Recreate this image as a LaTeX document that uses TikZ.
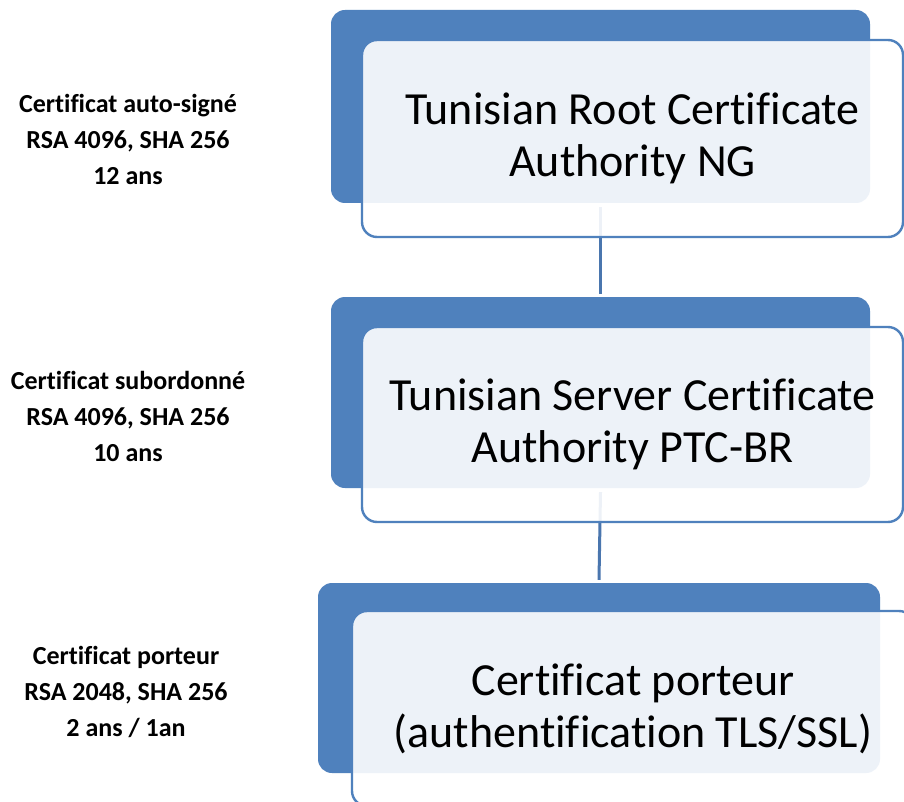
\documentclass[tikz,border=0pt]{standalone}
\usepackage{fontspec}
\setmainfont{Carlito}[Ligatures=NoCommon]
\definecolor{accent}{HTML}{4F81BD}
\definecolor{connc}{HTML}{4A76AE}
\begin{document}
\begin{tikzpicture}[x=1pt,y=-1pt,
  backbox/.style={fill=accent, draw=none, rounded corners=14pt, inner sep=0pt},
  frontbox/.style={fill=white, fill opacity=0.9, text opacity=1, draw=accent, draw opacity=1,
    line width=2.4pt, rounded corners=15pt, inner sep=0pt, align=center,
    font=\fontsize{46}{52}\selectfont},
  conn/.style={draw=connc, line width=3pt},
  sidelabel/.style={align=center, font=\bfseries\fontsize{26}{36}\selectfont, inner sep=0pt}]
\useasboundingbox (0,0) rectangle (904,802);
\clip (0,0) rectangle (904,802);
\fill[white] (0,0) rectangle (904,802);
% back boxes
\node[backbox, minimum width=539pt, minimum height=193pt] (b1) at (600.5,106.5) {};
\node[backbox, minimum width=539pt, minimum height=191pt] (b2) at (600.5,392.5) {};
\node[backbox, minimum width=562pt, minimum height=190pt] (b3) at (599,678) {};
% connectors
\draw[conn] ([yshift=-4pt]b1.south) -- ([yshift=3pt]b2.north);
\draw[conn] ([yshift=-4pt]b2.south) -- ([yshift=3pt]b3.north);
% front boxes
\node[frontbox, minimum width=541pt, minimum height=197pt] (f1) at (632.5,138.5)
  {Tunisian Root Certificate\\Authority NG};
\node[frontbox, minimum width=541pt, minimum height=195pt] (f2) at (632.5,424.5)
  {Tunisian Server Certificate\\Authority PTC-BR};
\node[frontbox, minimum width=562pt, minimum height=195pt] (f3) at (633,708.5)
  {Certificat porteur\\(authentification TLS/SSL)};
% side labels
\node[sidelabel] (l1) at (128,139) {Certificat auto-signé\\RSA 4096, SHA 256\\12 ans};
\node[sidelabel] (l2) at (128,416) {Certificat subordonné\\RSA 4096, SHA 256\\10 ans};
\node[sidelabel] (l3) at (126,692) {Certificat porteur\\RSA 2048, SHA 256\\2 ans / 1an};
\end{tikzpicture}
\end{document}
